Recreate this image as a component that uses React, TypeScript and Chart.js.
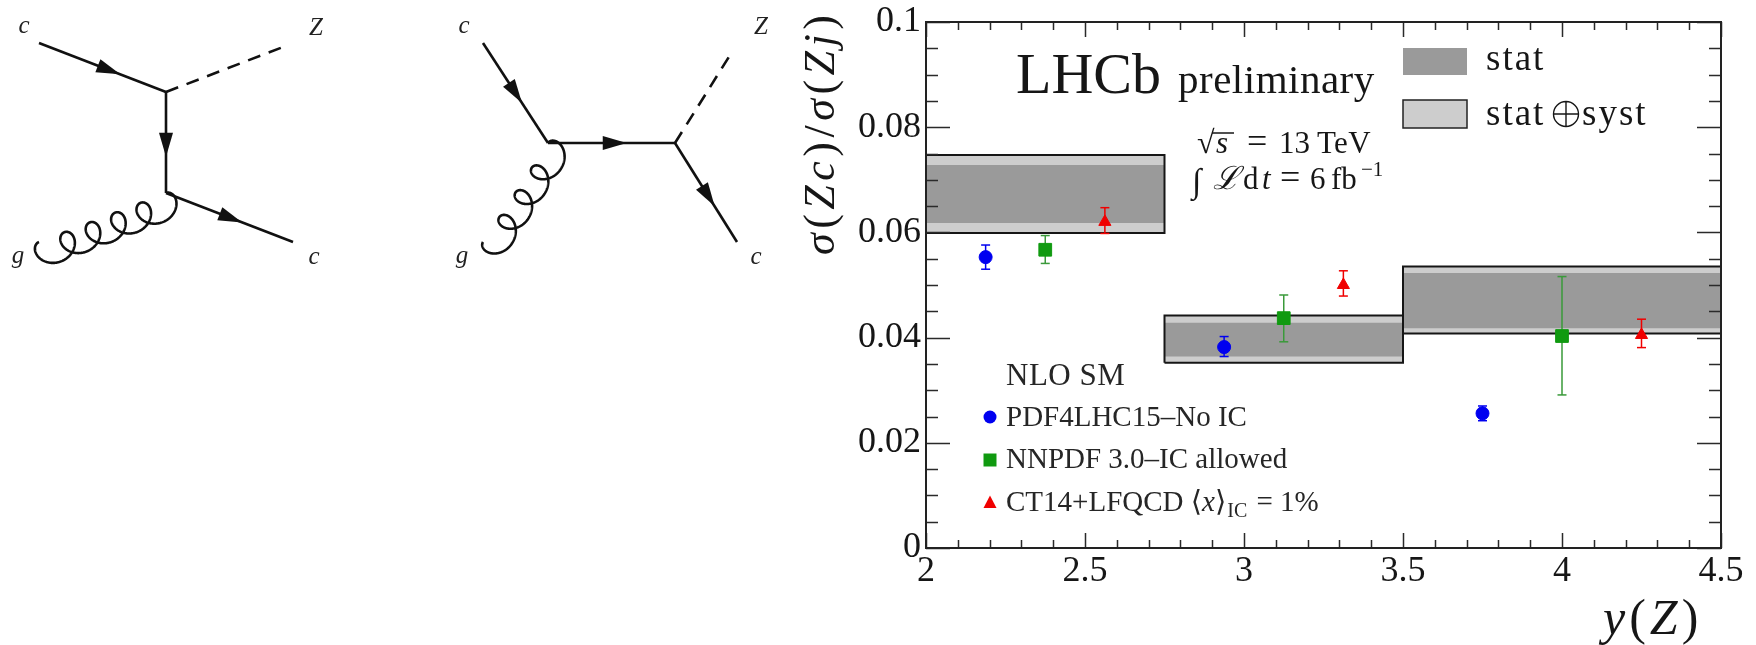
import React, { useEffect, useRef } from 'react';
import { Chart, registerables } from 'chart.js';

Chart.register(...registerables);

// ---------------- data ----------------
// measurement bins in y(Z)
const binLow = [2.0, 2.75, 3.5];
const binHigh = [2.75, 3.5, 4.5];
const statLow = [0.0618, 0.0364, 0.0418];
const statHigh = [0.0728, 0.0428, 0.0523];
const systLow = [0.0599, 0.0352, 0.0408];
const systHigh = [0.0747, 0.0442, 0.0535];

// NLO SM predictions
const pdf4lhcX = [2.1875, 2.9375, 3.75];
const pdf4lhcY = [0.0553, 0.0382, 0.0256];
const pdf4lhcLo = [0.053, 0.0364, 0.0242];
const pdf4lhcHi = [0.0576, 0.0402, 0.027];

const nnpdfX = [2.375, 3.125, 4.0];
const nnpdfY = [0.0567, 0.0437, 0.0403];
const nnpdfLo = [0.0541, 0.0392, 0.0291];
const nnpdfHi = [0.0594, 0.0481, 0.0516];

const ct14X = [2.5625, 3.3125, 4.25];
const ct14Y = [0.062, 0.05, 0.0405];
const ct14Lo = [0.0598, 0.0479, 0.0381];
const ct14Hi = [0.0647, 0.0527, 0.0435];

const xTickLabels = ['2', '2.5', '3', '3.5', '4', '4.5'];
const yTickLabels = ['0', '0.02', '0.04', '0.06', '0.08', '0.1'];

const seriesNames = ['PDF4LHC15–No IC', 'NNPDF 3.0–IC allowed', 'CT14+LFQCD ⟨x⟩'];
const legendHeader = 'NLO SM';

// ---------------- styles ----------------
const SERIF = '"Liberation Serif", "DejaVu Serif", serif';
const BLUE = '#0000f0';
const GREEN = '#109a10';
const GREEN_BAR = '#3a9a3a';
const RED = '#f00000';
const DARK = '#9a9a9a';
const LIGHT = '#cdcdcd';
const INK = '#161616';

function errData(xs: number[], lo: number[], hi: number[]) {
  const out: any[] = [];
  xs.forEach((x, i) => {
    out.push({ x, y: lo[i] }, { x, y: hi[i] }, { x, y: null });
  });
  return out;
}
function ptData(xs: number[], ys: number[]) {
  return xs.map((x, i) => ({ x, y: ys[i] }));
}

function buildDatasets() {
  const ds: any[] = [];
  const hidden = 'rgba(0,0,0,0)';
  binLow.forEach((x0, i) => {
    const x1 = binHigh[i];
    const base = ds.length;
    ds.push({
      data: [{ x: x0, y: systHigh[i] }, { x: x1, y: systHigh[i] }],
      fill: base + 1, backgroundColor: LIGHT, borderColor: hidden, borderWidth: 0, pointRadius: 0, order: 6,
    });
    ds.push({
      data: [{ x: x0, y: systLow[i] }, { x: x1, y: systLow[i] }],
      fill: false, borderColor: hidden, borderWidth: 0, pointRadius: 0, order: 6,
    });
    ds.push({
      data: [{ x: x0, y: statHigh[i] }, { x: x1, y: statHigh[i] }],
      fill: base + 3, backgroundColor: DARK, borderColor: hidden, borderWidth: 0, pointRadius: 0, order: 5,
    });
    ds.push({
      data: [{ x: x0, y: statLow[i] }, { x: x1, y: statLow[i] }],
      fill: false, borderColor: hidden, borderWidth: 0, pointRadius: 0, order: 5,
    });
    ds.push({
      data: [
        { x: x0, y: systLow[i] }, { x: x0, y: systHigh[i] }, { x: x1, y: systHigh[i] },
        { x: x1, y: systLow[i] }, { x: x0, y: systLow[i] },
      ],
      fill: false, borderColor: INK, borderWidth: 2, pointRadius: 0, order: 4,
    });
  });
  const series = [
    { xs: pdf4lhcX, ys: pdf4lhcY, lo: pdf4lhcLo, hi: pdf4lhcHi, c: BLUE, bar: BLUE, style: 'circle', r: 6.5 },
    { xs: nnpdfX, ys: nnpdfY, lo: nnpdfLo, hi: nnpdfHi, c: GREEN, bar: GREEN_BAR, style: 'rect', r: 9 },
    { xs: ct14X, ys: ct14Y, lo: ct14Lo, hi: ct14Hi, c: RED, bar: RED, style: 'triangle', r: 7 },
  ];
  series.forEach((s) => {
    ds.push({
      data: errData(s.xs, s.lo, s.hi), showLine: true, spanGaps: false, fill: false,
      borderColor: s.bar, borderWidth: 1.5, pointStyle: 'line', pointRadius: 4.5,
      pointBorderColor: s.bar, pointBorderWidth: 1.5, pointBackgroundColor: s.bar, order: 2,
    });
    ds.push({
      data: ptData(s.xs, s.ys), showLine: false, fill: false, pointStyle: s.style, pointRadius: s.r,
      pointBackgroundColor: s.c, pointBorderColor: s.c, pointBorderWidth: 1, order: 1,
    });
  });
  return ds;
}

// ---------------- drawing helpers ----------------
function arrowAt(ctx: CanvasRenderingContext2D, x0: number, y0: number, x1: number, y1: number, f: number) {
  const dx = x1 - x0, dy = y1 - y0, L = Math.hypot(dx, dy);
  const ux = dx / L, uy = dy / L;
  const tx = x0 + dx * f, ty = y0 + dy * f;
  const len = 24, hw = 7;
  const bx = tx - ux * len, by = ty - uy * len;
  ctx.beginPath();
  ctx.moveTo(tx, ty);
  ctx.lineTo(bx - uy * hw, by + ux * hw);
  ctx.lineTo(bx + uy * hw, by - ux * hw);
  ctx.closePath();
  ctx.fill();
}
function line(ctx: CanvasRenderingContext2D, x0: number, y0: number, x1: number, y1: number, dash = false) {
  ctx.save();
  if (dash) ctx.setLineDash([13, 9]);
  ctx.beginPath();
  ctx.moveTo(x0, y0);
  ctx.lineTo(x1, y1);
  ctx.stroke();
  ctx.restore();
}
function gluon(ctx: CanvasRenderingContext2D, x0: number, y0: number, x1: number, y1: number, n: number, b: number, side: number) {
  const dx = x1 - x0, dy = y1 - y0, L = Math.hypot(dx, dy);
  const ux = dx / L, uy = dy / L;
  const nx = uy * side, ny = -ux * side;
  const a = L / (2 * Math.PI * n);
  ctx.beginPath();
  const T = 2 * Math.PI * n;
  for (let k = 0; k <= 800; k++) {
    const t = (T * k) / 800;
    const along = a * t - b * Math.sin(t);
    const perp = b * (1 - Math.cos(t));
    const px = x0 + ux * along + nx * perp;
    const py = y0 + uy * along + ny * perp;
    if (k === 0) ctx.moveTo(px, py); else ctx.lineTo(px, py);
  }
  ctx.stroke();
}
function label(ctx: CanvasRenderingContext2D, s: string, x: number, y: number) {
  ctx.font = `italic 25px ${SERIF}`;
  ctx.textAlign = 'center';
  ctx.textBaseline = 'alphabetic';
  ctx.fillText(s, x, y);
}

function drawFeynman(ctx: CanvasRenderingContext2D) {
  ctx.save();
  ctx.strokeStyle = '#111';
  ctx.fillStyle = '#111';
  ctx.lineWidth = 2.6;
  ctx.lineCap = 'butt';
  // diagram 1 (t-channel)
  const v1 = [166, 92], v2 = [166, 193];
  line(ctx, 39, 43, v1[0], v1[1]);
  arrowAt(ctx, 39, 43, v1[0], v1[1], 0.64);
  line(ctx, v1[0], v1[1], 283, 47, true);
  line(ctx, v1[0], v1[1], v2[0], v2[1]);
  arrowAt(ctx, v1[0], v1[1], v2[0], v2[1], 0.64);
  gluon(ctx, 39, 242, v2[0], v2[1], 5, 13, -1);
  line(ctx, v2[0], v2[1], 293, 242);
  arrowAt(ctx, v2[0], v2[1], 293, 242, 0.6);
  ctx.fillStyle = '#222';
  label(ctx, 'c', 24, 33);
  label(ctx, 'Z', 316, 35);
  label(ctx, 'g', 18, 263);
  label(ctx, 'c', 314, 264);
  // diagram 2 (s-channel)
  ctx.fillStyle = '#111';
  const v = [548, 143], w = [675, 143];
  line(ctx, 483, 43, v[0], v[1]);
  arrowAt(ctx, 483, 43, v[0], v[1], 0.6);
  gluon(ctx, 483, 242, v[0], v[1], 4, 12.5, -1);
  line(ctx, v[0], v[1], w[0], w[1]);
  arrowAt(ctx, v[0], v[1], w[0], w[1], 0.62);
  line(ctx, w[0], w[1], 732, 52, true);
  line(ctx, w[0], w[1], 737, 242);
  arrowAt(ctx, w[0], w[1], 737, 242, 0.64);
  ctx.fillStyle = '#222';
  label(ctx, 'c', 464, 33);
  label(ctx, 'Z', 761, 34);
  label(ctx, 'g', 462, 263);
  label(ctx, 'c', 756, 264);
  ctx.restore();
}

function put(ctx: CanvasRenderingContext2D, s: string, x: number, y: number, font: string, sp = 0) {
  ctx.font = font;
  (ctx as any).letterSpacing = `${sp}px`;
  ctx.fillText(s, x, y);
  const w = ctx.measureText(s).width;
  (ctx as any).letterSpacing = '0px';
  return x + w;
}

function marker(ctx: CanvasRenderingContext2D, style: string, x: number, y: number, c: string) {
  ctx.fillStyle = c;
  ctx.beginPath();
  if (style === 'circle') ctx.arc(x, y, 6.5, 0, Math.PI * 2);
  else if (style === 'rect') ctx.rect(x - 6.5, y - 6.5, 13, 13);
  else {
    ctx.moveTo(x, y - 7.5);
    ctx.lineTo(x + 6.5, y + 5);
    ctx.lineTo(x - 6.5, y + 5);
    ctx.closePath();
  }
  ctx.fill();
}

const framePlugin = {
  id: 'rootFrame',
  afterDatasetsDraw(chart: any) {
    const ctx: CanvasRenderingContext2D = chart.ctx;
    const xs = chart.scales.x, ys = chart.scales.y;
    const { left, right, top, bottom } = chart.chartArea;
    ctx.save();
    ctx.strokeStyle = '#2a2a2a';
    ctx.lineWidth = 1.5;
    ctx.beginPath();
    for (let k = 0; k <= 25; k++) {
      const v = 2 + k * 0.1;
      const px = Math.round(xs.getPixelForValue(v)) + 0.5;
      const len = k % 5 === 0 ? 15 : 8;
      ctx.moveTo(px, bottom); ctx.lineTo(px, bottom - len);
      ctx.moveTo(px, top); ctx.lineTo(px, top + len);
    }
    for (let k = 0; k <= 20; k++) {
      const v = k * 0.005;
      const py = Math.round(ys.getPixelForValue(v)) + 0.5;
      const len = k % 4 === 0 ? 24 : 12;
      ctx.moveTo(left, py); ctx.lineTo(left + len, py);
      ctx.moveTo(right, py); ctx.lineTo(right - len, py);
    }
    ctx.stroke();
    ctx.lineWidth = 2;
    ctx.strokeStyle = '#222';
    ctx.strokeRect(left, top, right - left, bottom - top);
    ctx.restore();
  },
  afterDraw(chart: any) {
    const ctx: CanvasRenderingContext2D = chart.ctx;
    ctx.save();
    ctx.textAlign = 'left';
    ctx.textBaseline = 'alphabetic';
    ctx.fillStyle = INK;

    // y-axis title (rotated)
    ctx.save();
    ctx.translate(834, 255);
    ctx.rotate(-Math.PI / 2);
    const yPieces: [string, boolean][] = [
      ['σ', true], ['(', false], ['Z', true], ['c', true], [')', false], ['/', false],
      ['σ', true], ['(', false], ['Z', true], ['j', true], [')', false],
    ];
    let tx = 0;
    for (const [s, it] of yPieces) {
      ctx.font = `${it ? 'italic ' : ''}44px ${SERIF}`;
      ctx.fillText(s, tx, 0);
      tx += ctx.measureText(s).width + 4.5;
    }
    ctx.restore();

    // x-axis title
    const xPieces: [string, boolean][] = [['y', true], ['(', false], ['Z', true], [')', false]];
    tx = 1603;
    for (const [s, it] of xPieces) {
      ctx.font = `${it ? 'italic ' : ''}50px ${SERIF}`;
      ctx.fillText(s, tx, 634);
      tx += ctx.measureText(s).width + 4;
    }

    // LHCb preliminary
    put(ctx, 'LHCb', 1016, 93, `58px ${SERIF}`);
    put(ctx, 'preliminary', 1178, 93, `41px ${SERIF}`, 0.5);

    // sqrt(s) = 13 TeV
    const f31 = `31px ${SERIF}`;
    put(ctx, '√', 1197, 153, `32px ${SERIF}`);
    put(ctx, 's', 1216, 153, `italic 31px ${SERIF}`);
    ctx.strokeStyle = INK;
    ctx.lineWidth = 1.5;
    ctx.beginPath();
    ctx.moveTo(1212, 133); ctx.lineTo(1234, 133);
    ctx.stroke();
    put(ctx, '=', 1247, 153, `36px ${SERIF}`);
    put(ctx, '13', 1279, 153, f31);
    put(ctx, 'TeV', 1317, 153, f31, 0.3);
    // integrated luminosity
    put(ctx, '∫', 1192, 192, `italic 34px ${SERIF}`);
    put(ctx, 'ℒ', 1213, 189, `italic 32px "DejaVu Serif", serif`);
    put(ctx, 'd', 1243, 189, f31);
    put(ctx, 't', 1262, 189, `italic 31px ${SERIF}`);
    put(ctx, '=', 1280, 189, `36px ${SERIF}`);
    put(ctx, '6', 1310, 189, f31);
    put(ctx, 'fb', 1331, 189, f31);
    put(ctx, '−1', 1361, 176, `21px ${SERIF}`);

    // top-right legend
    ctx.fillStyle = DARK;
    ctx.fillRect(1403, 48, 64, 27);
    ctx.fillStyle = LIGHT;
    ctx.fillRect(1403, 100, 64, 28);
    ctx.strokeStyle = '#222';
    ctx.lineWidth = 1.5;
    ctx.strokeRect(1403, 100, 64, 28);
    ctx.fillStyle = INK;
    const f37 = `37px ${SERIF}`;
    put(ctx, 'stat', 1486, 70, f37, 2);
    put(ctx, 'stat', 1486, 125, f37, 2);
    ctx.beginPath();
    ctx.lineWidth = 1.4;
    ctx.strokeStyle = INK;
    ctx.arc(1566, 114, 12.5, 0, Math.PI * 2);
    ctx.moveTo(1553.5, 114); ctx.lineTo(1578.5, 114);
    ctx.moveTo(1566, 101.5); ctx.lineTo(1566, 126.5);
    ctx.stroke();
    put(ctx, 'syst', 1582, 125, f37, 2);

    // lower-left legend
    ctx.fillStyle = '#262626';
    put(ctx, legendHeader, 1006, 385, `31px ${SERIF}`, 0.5);
    const f29 = `29px ${SERIF}`;
    marker(ctx, 'circle', 990, 417, BLUE);
    marker(ctx, 'rect', 990, 460, GREEN);
    marker(ctx, 'triangle', 990, 503, RED);
    ctx.fillStyle = '#262626';
    put(ctx, seriesNames[0], 1006, 426, f29);
    put(ctx, seriesNames[1], 1006, 468, f29);
    let e = put(ctx, 'CT14+LFQCD ', 1006, 511, f29);
    e = put(ctx, '⟨', e, 511, f29);
    e = put(ctx, 'x', e, 511, `italic 29px ${SERIF}`);
    e = put(ctx, '⟩', e, 511, f29);
    e = put(ctx, 'IC', e + 1, 517, `20px ${SERIF}`);
    put(ctx, ' = 1%', e + 2, 511, f29);

    drawFeynman(ctx);
    ctx.restore();
  },
};

export default function App() {
  const ref = useRef<HTMLCanvasElement | null>(null);
  useEffect(() => {
    if (!ref.current) return;
    const tickFont = { family: SERIF, size: 36, lineHeight: 1.2 };
    const chart = new Chart(ref.current, {
      type: 'line',
      data: { datasets: buildDatasets() },
      options: {
        animation: false,
        responsive: false,
        events: [],
        layout: { padding: { left: 826, right: 35, top: 22, bottom: 0 } },
        plugins: {
          legend: { display: false },
          tooltip: { enabled: false },
          filler: { propagate: false },
        },
        scales: {
          x: {
            type: 'linear',
            min: 2,
            max: 4.5,
            grid: { display: false, drawTicks: false },
            border: { display: false },
            ticks: {
              stepSize: 0.5,
              autoSkip: false,
              maxRotation: 0,
              padding: 2,
              color: INK,
              font: tickFont,
              callback: (v: any) => xTickLabels[Math.round((Number(v) - 2) / 0.5)] ?? '',
            },
            afterFit: (s: any) => {
              s.height = 97;
              s.paddingLeft = 0;
              s.paddingRight = 0;
            },
          },
          y: {
            type: 'linear',
            min: 0,
            max: 0.1,
            grid: { display: false, drawTicks: false },
            border: { display: false },
            ticks: {
              stepSize: 0.02,
              padding: 5,
              color: INK,
              font: tickFont,
              callback: (v: any) => yTickLabels[Math.round(Number(v) / 0.02)] ?? '',
            },
            afterFit: (s: any) => {
              s.width = 100;
              s.paddingTop = 0;
              s.paddingBottom = 0;
            },
          },
        },
      } as any,
      plugins: [framePlugin],
    });
    return () => chart.destroy();
  }, []);
  return (
    <div style={{ position: 'absolute', left: 0, top: 0, width: 1756, height: 645, background: '#fff' }}>
      <canvas ref={ref} width={1756} height={645} style={{ display: 'block', width: 1756, height: 645 }} />
    </div>
  );
}
